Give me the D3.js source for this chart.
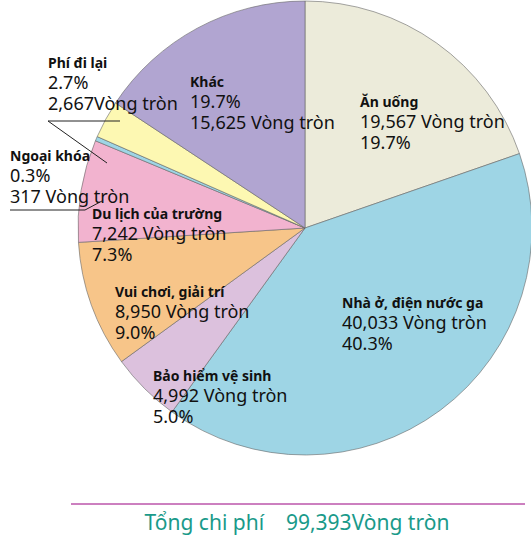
<!DOCTYPE html><html><head><meta charset="utf-8"><script src="https://cdn.jsdelivr.net/npm/d3@7"></script>
<style>body{margin:0;background:#fff}text{font-family:"Noto Sans",sans-serif}</style></head><body><svg id="c" width="531" height="538"></svg>
<script>
const categories=["Ăn uống","Nhà ở, điện nước ga","Bảo hiểm vệ sinh","Vui chơi, giải trí","Du lịch của trường","Ngoại khóa","Phí đi lại","Khác"];
const amounts=[19567,40033,4992,8950,7242,317,2667,15625];
const percents=["19.7%","40.3%","5.0%","9.0%","7.3%","0.3%","2.7%","19.7%"];
const colors=["#ecebda","#9ed5e5","#dcc1dd","#f7c589","#f2b3cf","#9ed5e5","#fdf8b2","#b1a5d1"];
const total="99,393";
const svg=d3.select("#c");
const cx=305,cy=228,r=227;
const pie=d3.pie().sort(null).value(d=>d)(amounts);
const arc=d3.arc().innerRadius(0).outerRadius(r);
const g=svg.append("g").attr("transform",`translate(${cx},${cy})`);
g.selectAll("path").data(pie).join("path").attr("d",arc).attr("fill",(d,i)=>colors[i]).attr("stroke","#666").attr("stroke-width",0.6);
const fmt=d3.format(",");
const L=[
 [360,107,[categories[0],fmt(amounts[0])+" Vòng tròn",percents[0]]],
 [342,308,[categories[1],fmt(amounts[1])+" Vòng tròn",percents[1]]],
 [153,381,[categories[2],fmt(amounts[2])+" Vòng tròn",percents[2]]],
 [115,297,[categories[3],fmt(amounts[3])+" Vòng tròn",percents[3]]],
 [92,219,[categories[4],fmt(amounts[4])+" Vòng tròn",percents[4]]],
 [10,161,[categories[5],percents[5],fmt(amounts[5])+" Vòng tròn"]],
 [48,68,[categories[6],percents[6],fmt(amounts[6])+"Vòng tròn"]],
 [190,87,[categories[7],percents[7],fmt(amounts[7])+" Vòng tròn"]]
];
L.forEach(([x,y,ls],i)=>{
 ls.forEach((t,j)=>{
  svg.append("text").attr("x",x).attr("y",y+j*21).attr("font-size",j===0?14:18)
   .attr("font-weight",j===0?"bold":"normal").attr("fill","#111").text(t);
 });
});
svg.append("polyline").attr("points","120,121 48,121 107,163").attr("fill","none").attr("stroke","#222");
svg.append("polyline").attr("points","10,210 85,210 102,201").attr("fill","none").attr("stroke","#222");
svg.append("line").attr("x1",71).attr("x2",525).attr("y1",504).attr("y2",504).attr("stroke","#990080");
svg.append("text").attr("x",297).attr("y",530).attr("text-anchor","middle").attr("font-size",21).attr("fill","#1a9a8a")
 .attr("font-family","Liberation Sans").text("Tổng chi phí\u00a0\u00a0\u00a0\u00a0"+total+"Vòng tròn");
</script></body></html>
